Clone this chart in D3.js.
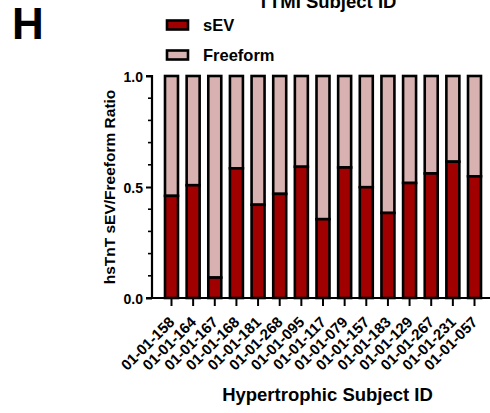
<!DOCTYPE html>
<html><head><meta charset="utf-8">
<script src="https://cdn.jsdelivr.net/npm/d3@7"></script>
<style>body{margin:0;background:#fff}svg{display:block;font-family:"Liberation Sans",Arial,sans-serif;font-weight:bold}</style>
</head><body>
<script>
const categories = ["01-01-158","01-01-164","01-01-167","01-01-168","01-01-181","01-01-268","01-01-095","01-01-117","01-01-079","01-01-157","01-01-183","01-01-129","01-01-267","01-01-231","01-01-057"];
const sEV = [0.46,0.508,0.092,0.584,0.42,0.469,0.591,0.355,0.588,0.499,0.383,0.518,0.561,0.614,0.548];
const yTicks = [0, 0.5, 1.0];
const seriesNames = ["sEV","Freeform"];
const colors = ["#a00000","#d8b1b1"];

const W = 490, H = 413;
const svg = d3.select("body").append("svg").attr("width", W).attr("height", H);
const x = d3.scaleBand().domain(categories).range([165, 481]).paddingInner(0.4).paddingOuter(0);
const y = d3.scaleLinear().domain([0, 1]).range([298, 76]);

// bars
const g = svg.append("g");
categories.forEach((c, i) => {
  const bx = x(c), bw = x.bandwidth();
  g.append("rect").attr("x", bx).attr("y", y(1)).attr("width", bw).attr("height", y(sEV[i]) - y(1))
    .attr("fill", colors[1]).attr("stroke", "#000").attr("stroke-width", 2.6);
  g.append("rect").attr("x", bx).attr("y", y(sEV[i])).attr("width", bw).attr("height", y(0) - y(sEV[i]))
    .attr("fill", colors[0]).attr("stroke", "#000").attr("stroke-width", 2.6);
});

// y axis
const yAxis = d3.axisLeft(y).tickValues(yTicks).tickFormat(d3.format(".1f")).tickSize(6).tickPadding(3);
const ya = svg.append("g").attr("transform", "translate(152,0)").call(yAxis);
ya.select(".domain").attr("stroke-width", 2.2).attr("d", `M-6,${y(1)}H0V${y(0)}`);
ya.selectAll(".tick line").attr("stroke-width", 2);
ya.selectAll(".tick text").attr("font-size", 14).attr("font-weight", "bold").attr("fill", "#000")
  .attr("font-family", "Liberation Sans, Arial, sans-serif").attr("dy", "0.36em");
const minor = d3.range(1, 10).map(i => i / 10).filter(v => v !== 0.5);
ya.selectAll(".minor").data(minor).enter().append("line").attr("class", "minor")
  .attr("x1", -4).attr("x2", 0).attr("y1", d => y(d)).attr("y2", d => y(d)).attr("stroke", "#000").attr("stroke-width", 1.6);

// x axis
const xAxis = d3.axisBottom(x).tickSize(8).tickPadding(4);
const xa = svg.append("g").attr("transform", `translate(0,${y(0)})`).call(xAxis);
xa.select(".domain").attr("stroke-width", 2.2).attr("d", "M146,0H490");
xa.selectAll(".tick line").attr("stroke-width", 2);
xa.selectAll(".tick text").attr("font-size", 15).attr("font-weight", "bold").attr("fill", "#000")
  .attr("font-family", "Liberation Sans, Arial, sans-serif")
  .attr("text-anchor", "end").attr("x", 0).attr("y", 0).attr("dy", 0)
  .attr("transform", "translate(4,25) rotate(-45)");

// axis titles
svg.append("text").attr("transform", `translate(115,${(y(0)+y(1))/2}) rotate(-90)`).attr("text-anchor", "middle")
  .attr("font-size", 15.5).attr("font-weight", "bold").text("hsTnT sEV/Freeform Ratio");
svg.append("text").attr("x", 327.5).attr("y", 401).attr("text-anchor", "middle").attr("font-size", 18.5).text("Hypertrophic Subject ID");
svg.append("text").attr("x", 327).attr("y", 8).attr("text-anchor", "middle").attr("font-size", 18.5).text("TTMI Subject ID");
svg.append("text").attr("x", 12).attr("y", 39).attr("font-size", 44).text("H");

// legend
seriesNames.forEach((n, i) => {
  const ly = 20.5 + i * 30;
  svg.append("rect").attr("x", 167).attr("y", ly).attr("width", 21).attr("height", 9)
    .attr("fill", colors[i]).attr("stroke", "#000").attr("stroke-width", 2.6);
  svg.append("text").attr("x", 203).attr("y", ly + 10.5).attr("font-size", 16.5).text(n);
});
</script>
</body></html>
